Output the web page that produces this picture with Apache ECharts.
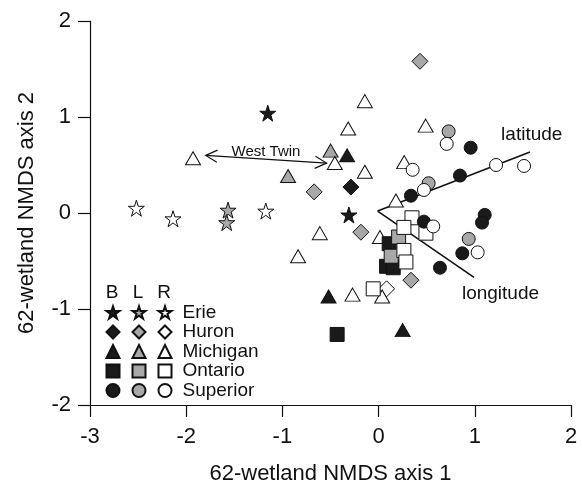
<!DOCTYPE html>
<html><head><meta charset="utf-8">
<script src="https://cdn.jsdelivr.net/npm/echarts@6/dist/echarts.min.js"></script>
<style>html,body{margin:0;padding:0;background:#fff}#c{width:582px;height:485px}</style>
</head><body><div id="c"></div>
<script>
const lakes = ['Erie','Huron','Michigan','Ontario','Superior'];
const types = ['B','L','R'];
const erieB = [[-1.152,1.04],[-0.309,-0.02]];
const erieL = [[-1.565,0.03],[-1.579,-0.10]];
const erieR = [[-2.518,0.05],[-2.137,-0.06],[-1.173,0.02]];
const huronB = [[-0.288,0.27]];
const huronL = [[0.430,1.58],[-0.670,0.22],[-0.184,-0.20],[0.336,-0.70]];
const huronR = [[0.083,-0.79]];
const michiganB = [[-0.327,0.60],[-0.520,-0.87],[0.250,-1.22]];
const michiganL = [[-0.499,0.65],[-0.941,0.385]];
const michiganR = [[-1.929,0.57],[-0.455,0.52],[-0.611,-0.21],[-0.837,-0.45],[-0.143,1.165],[-0.316,0.88],[0.489,0.91],[-0.143,0.43],[0.266,0.53],[0.180,0.13],[0.014,-0.25],[-0.271,-0.85],[0.037,-0.87]];
const ontarioB = [[-0.431,-1.265],[0.110,-0.32],[0.083,-0.555],[0.152,-0.57]];
const ontarioL = [[0.208,-0.25],[0.131,-0.45]];
const ontarioR = [[0.347,-0.05],[0.263,-0.15],[0.492,-0.21],[0.263,-0.39],[0.284,-0.51],[-0.056,-0.79]];
const superiorB = [[0.957,0.68],[0.846,0.39],[0.336,0.18],[0.471,-0.09],[1.103,-0.02],[1.075,-0.10],[0.870,-0.42],[0.638,-0.57]];
const superiorL = [[0.728,0.85],[0.520,0.31],[0.937,-0.27]];
const superiorR = [[0.708,0.72],[1.221,0.50],[1.512,0.49],[0.354,0.45],[0.471,0.24],[0.568,-0.14],[1.030,-0.41]];
const biplotOrigin = [-0.01,0.02];
const biplotNames = ['latitude','longitude'];
const biplotEnds = [[1.574,0.635],[0.992,-0.67]];
const biplotLabelAt = [[1.592,0.816],[1.267,-0.846]];
const westTwinName = 'West Twin';
const westTwinFrom = [-1.797,0.60];
const westTwinTo = [-0.541,0.52];
const westTwinLabelAt = [-1.171,0.635];
const xTicks = [-3,-2,-1,0,1,2];
const yTicks = [-2,-1,0,1,2];

const seriesData = {
  Erie:{B:erieB,L:erieL,R:erieR},
  Huron:{B:huronB,L:huronL,R:huronR},
  Michigan:{B:michiganB,L:michiganL,R:michiganR},
  Ontario:{B:ontarioB,L:ontarioL,R:ontarioR},
  Superior:{B:superiorB,L:superiorL,R:superiorR}
};
const FONT = 'Liberation Sans, Arial, Helvetica, sans-serif';
const INK = '#111';
const starPath = 'path://M50 0 L61.23 34.55 L97.55 34.55 L68.16 55.9 L79.39 90.45 L50 69.1 L20.61 90.45 L31.84 55.9 L2.45 34.55 L38.77 34.55 Z';
const fills = {B:'#1a1a1a', L:'#a8a8a8', R:'#ffffff'};
const symbols = {Erie:starPath, Huron:'diamond', Michigan:'triangle', Ontario:'rect', Superior:'circle'};
const sizes = {Erie:16, Huron:16, Michigan:[15,13], Ontario:14, Superior:13};

const series = [];
biplotNames.forEach((n,i)=>{
  series.push({type:'line', name:n, data:[biplotOrigin, biplotEnds[i]], symbol:'none',
    lineStyle:{color:INK, width:1.6}, silent:true, z:1});
});
series.push({type:'custom', name:westTwinName, data:[[...westTwinFrom, ...westTwinTo]],
  encode:{x:[0,2], y:[1,3]}, z:1, silent:true,
  renderItem:(p,api)=>{
    const a = api.coord([api.value(0),api.value(1)]);
    const b = api.coord([api.value(2),api.value(3)]);
    const dx=b[0]-a[0], dy=b[1]-a[1], L=Math.hypot(dx,dy), ux=dx/L, uy=dy/L;
    const len=13, ang=Math.PI/6.5;
    function arms(tip, vx, vy){
      const c=Math.cos(ang), s=Math.sin(ang);
      const p1=[tip[0]+len*(vx*c - vy*s), tip[1]+len*(vx*s + vy*c)];
      const p2=[tip[0]+len*(vx*c + vy*s), tip[1]+len*(-vx*s + vy*c)];
      return [p1, tip, p2];
    }
    const st = {stroke:INK, lineWidth:1.2, fill:null};
    return {type:'group', children:[
      {type:'line', shape:{x1:a[0],y1:a[1],x2:b[0],y2:b[1]}, style:st},
      {type:'polyline', shape:{points:arms(a,ux,uy)}, style:st},
      {type:'polyline', shape:{points:arms(b,-ux,-uy)}, style:st}
    ]};
  }
});
lakes.forEach(l=>{
  types.forEach(t=>{
    series.push({type:'scatter', name:l+' '+t, data:seriesData[l][t],
      symbol:symbols[l], symbolSize:sizes[l], z:3,
      itemStyle:{color:fills[t], borderColor:INK, borderWidth:1, opacity:1}});
  });
});

const legendCommon = {orient:'vertical', top:303, itemWidth:13, itemHeight:13, itemGap:0.5,
  padding:0, selectedMode:false,
  textStyle:{fontFamily:FONT, fontSize:19, lineHeight:19, color:INK}};

const chart = echarts.init(document.getElementById('c'), null, {renderer:'canvas'});
chart.setOption({
  animation:false,
  backgroundColor:'#fff',
  grid:{left:90, right:11, top:21, bottom:80, containLabel:false, outerBoundsMode:'none'},
  xAxis:{type:'value', min:xTicks[0], max:xTicks[xTicks.length-1], interval:1,
    name:'62-wetland NMDS axis 1', nameLocation:'middle', nameGap:58,
    nameTextStyle:{fontFamily:FONT, fontSize:22, color:INK},
    axisLine:{show:true, onZero:false, lineStyle:{color:INK, width:1.2}},
    axisTick:{show:true, inside:false, length:12, lineStyle:{color:INK, width:1.2}},
    axisLabel:{margin:21, fontFamily:FONT, fontSize:22, color:INK},
    splitLine:{show:false}},
  yAxis:{type:'value', min:yTicks[0], max:yTicks[yTicks.length-1], interval:1,
    name:'62-wetland NMDS axis 2', nameLocation:'middle', nameGap:52,
    nameTextStyle:{fontFamily:FONT, fontSize:22, color:INK},
    axisLine:{show:true, onZero:false, lineStyle:{color:INK, width:1.2}},
    axisTick:{show:true, inside:false, length:12, lineStyle:{color:INK, width:1.2}},
    axisLabel:{margin:19, fontFamily:FONT, fontSize:22, color:INK},
    splitLine:{show:false}},
  legend:[
    Object.assign({}, legendCommon, {left:105.5, data:lakes.map(l=>l+' B'), formatter:()=>' '}),
    Object.assign({}, legendCommon, {left:131.5, data:lakes.map(l=>l+' L'), formatter:()=>' '}),
    Object.assign({}, legendCommon, {left:157.5, data:lakes.map(l=>l+' R'), formatter:n=>n.split(' ')[0],
      textStyle:Object.assign({}, legendCommon.textStyle, {padding:[0,0,0,6]})})
  ],
  series: series
});

function txt(x, y, text, size){
  return {type:'text', x:x, y:y, z:10,
    style:{text:text, fontSize:size, fontFamily:FONT, fill:INK, align:'center', verticalAlign:'middle',
      textAlign:'center', textVerticalAlign:'middle'}};
}
const graphics = types.map((t,i)=>txt(112+26*i, 292.7, t, 19));
biplotNames.forEach((n,i)=>{
  const p = chart.convertToPixel({gridIndex:0}, biplotLabelAt[i]);
  graphics.push(txt(p[0], p[1], n, 19));
});
const wp = chart.convertToPixel({gridIndex:0}, westTwinLabelAt);
graphics.push(txt(wp[0], wp[1], westTwinName, 15));
chart.setOption({graphic: graphics});
</script></body></html>
